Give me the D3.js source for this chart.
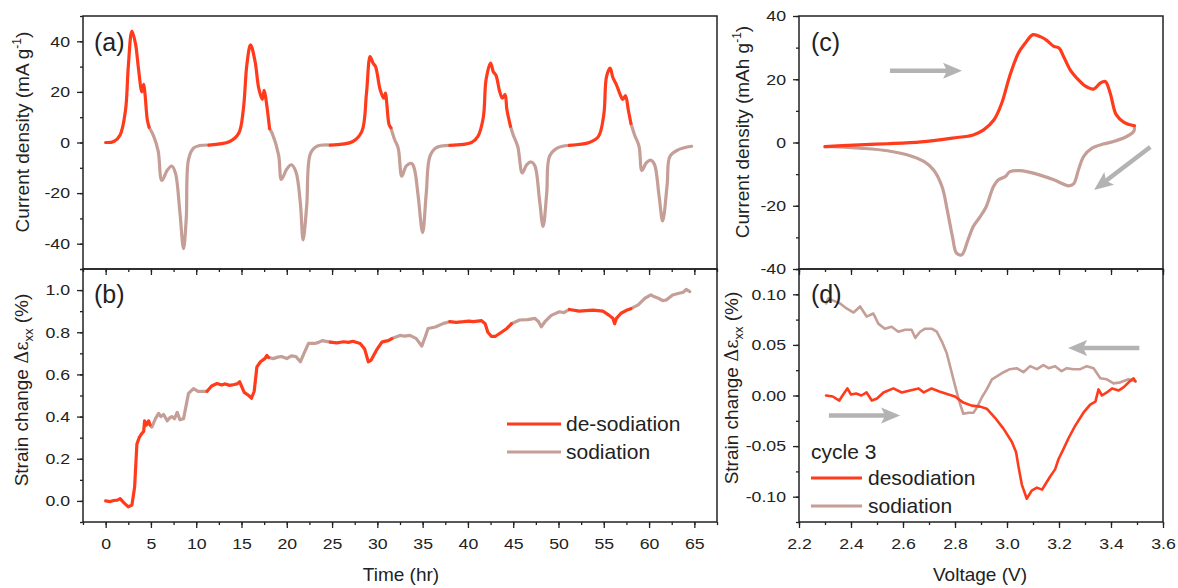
<!DOCTYPE html>
<html>
<head>
<meta charset="utf-8">
<script src="https://cdn.jsdelivr.net/npm/d3@7"></script>
<style>
  body { margin: 0; background: #fff; }
  text { font-family: "Liberation Sans", Arial, sans-serif; fill: #222; }
</style>
</head>
<body>
<svg id="chart" width="1178" height="588"></svg>
<script>
// ---- data ----
// (a) current density vs time, [hr, mA/g], one array per cycle
var currentDesod = [
  [[0,0],[0.9,0.4],[1.6,3],[2.2,13],[2.5,30],[2.9,44],[3.3,39],[3.6,30],[4.0,20],[4.2,23],[4.35,19],[4.6,9],[4.8,6]],
  [[11.4,-1],[13.7,0.4],[14.7,3.7],[15.2,13],[15.6,31],[16.0,38.6],[16.5,32],[16.9,21.5],[17.3,17],[17.5,20.6],[17.7,17],[18.1,5.5]],
  [[24.8,-1],[27.3,0.4],[28.3,4.5],[28.8,19.5],[29.2,34],[29.5,31.5],[29.8,30],[30.3,21],[30.7,17.5],[30.9,19.5],[31.05,15],[31.3,7],[31.5,5.8]],
  [[38.0,-1.1],[40.4,0],[41.1,2.4],[41.7,10],[42.0,24.8],[42.5,31.4],[42.8,28],[43.1,26.5],[43.5,20.2],[43.8,17.5],[44.1,19],[44.3,13],[44.7,6.4]],
  [[51.2,-1.1],[53.4,0],[54.4,2.3],[55.0,11],[55.3,26],[55.7,29.4],[56.0,25.7],[56.4,22.8],[56.8,19],[57.1,17],[57.4,18.5],[57.7,13],[58.0,7.5]]
];
var currentSod = [
  [[4.8,6],[5.3,2.5],[5.8,-3.4],[6.2,-15],[6.8,-11],[7.3,-9.3],[7.7,-12],[8.2,-27.6],[8.6,-42],[8.9,-30],[9.15,-6.7],[9.7,-2.2],[10.4,-1.2],[11.4,-1]],
  [[18.1,5.5],[18.4,3.5],[19.1,-5],[19.4,-14.6],[20,-10.5],[20.5,-8.8],[21,-11.5],[21.5,-24],[21.8,-38.5],[22.2,-25],[22.6,-4.5],[23.3,-1.5],[24.8,-1]],
  [[31.5,5.8],[31.9,1.2],[32.3,-2.2],[32.7,-13.3],[33.2,-9.2],[33.8,-8.3],[34.1,-10.6],[34.5,-21],[35.0,-35.6],[35.4,-20],[35.8,-5.5],[36.5,-2],[38.0,-1.1]],
  [[44.7,6.4],[45.0,3],[45.5,-1.6],[46.0,-12],[46.5,-8.7],[47.0,-7.7],[47.4,-9.3],[47.9,-22.5],[48.3,-33.2],[48.7,-20],[49.0,-5.5],[49.8,-2.3],[51.2,-1.1]],
  [[58.0,7.5],[58.4,3],[58.9,-1.6],[59.2,-11],[59.7,-8],[60.2,-7],[60.6,-8.7],[61.1,-21],[61.5,-31],[62.0,-16.5],[62.3,-5.5],[63.2,-2.9],[64.7,-1.5]]
];

// (b) strain change vs time, [hr, %]
var strainDesod = [
  [[0,0],[0.5,-0.003],[0.9,0.002],[1.3,0.004],[1.6,0.011],[2.0,-0.008],[2.5,-0.028],[2.9,-0.02],[3.2,0.066],[3.45,0.27],[3.7,0.30],[4.0,0.32],[4.2,0.33],[4.3,0.38],[4.5,0.36],[4.75,0.38],[4.9,0.36]],
  [[11.2,0.52],[11.7,0.545],[12.3,0.557],[12.8,0.55],[13.2,0.555],[13.7,0.548],[14.2,0.552],[14.5,0.555],[14.8,0.565],[15.3,0.515],[15.8,0.50],[16.1,0.487],[16.4,0.52],[16.7,0.636],[17.1,0.66],[17.6,0.676],[17.8,0.69],[18.0,0.68]],
  [[24.8,0.753],[25.5,0.75],[26.3,0.755],[26.8,0.752],[27.3,0.757],[28.1,0.747],[28.6,0.72],[29.0,0.66],[29.3,0.667],[29.9,0.715],[30.5,0.753],[30.9,0.758],[31.2,0.76],[31.6,0.77]],
  [[38.0,0.85],[38.7,0.847],[39.5,0.85],[40.1,0.853],[40.6,0.85],[41.5,0.855],[41.9,0.84],[42.2,0.80],[42.6,0.78],[43.0,0.78],[43.7,0.80],[44.3,0.818],[44.8,0.84]],
  [[51.2,0.908],[52.3,0.9],[53.0,0.903],[53.8,0.905],[54.9,0.9],[55.6,0.88],[56.0,0.866],[56.2,0.84],[56.4,0.866],[56.9,0.89],[57.5,0.904],[58.0,0.912]]
];
var strainSod = [
  [[4.9,0.36],[5.1,0.35],[5.5,0.39],[5.85,0.415],[6.1,0.40],[6.4,0.41],[6.8,0.38],[7.1,0.395],[7.3,0.40],[7.6,0.39],[7.9,0.42],[8.2,0.385],[8.6,0.39],[9.15,0.51],[9.7,0.533],[10.2,0.52],[10.6,0.52],[11.2,0.52]],
  [[18.0,0.68],[18.5,0.675],[19.0,0.682],[19.4,0.685],[20,0.675],[20.5,0.688],[21,0.685],[21.5,0.66],[21.9,0.70],[22.4,0.747],[23.1,0.747],[23.5,0.752],[23.9,0.76],[24.8,0.753]],
  [[31.6,0.77],[32.5,0.785],[33.0,0.782],[33.6,0.785],[34.3,0.77],[34.9,0.734],[35.3,0.78],[35.6,0.818],[36.4,0.825],[37.3,0.842],[38.0,0.85]],
  [[44.8,0.84],[45.7,0.858],[46.6,0.86],[47.4,0.866],[47.8,0.85],[48.1,0.826],[48.5,0.85],[49.2,0.88],[50.1,0.897],[50.6,0.893],[51.2,0.908]],
  [[58.0,0.912],[58.8,0.93],[59.5,0.96],[60.2,0.977],[60.6,0.968],[61.1,0.96],[61.5,0.95],[61.9,0.953],[62.6,0.977],[63.3,0.985],[63.8,0.99],[64.1,1.003],[64.5,0.993]]
];

// (c) cyclic voltammogram, [V, mAh/g]
var cvDesod = [[2.3,-1.3],[2.41,-0.8],[2.54,-0.4],[2.67,0.2],[2.79,1.4],[2.87,2.4],[2.91,4],[2.95,7.2],[2.98,12.5],[3.01,20.9],[3.044,28.3],[3.07,31.4],[3.10,34.1],[3.13,33.4],[3.153,32.3],[3.18,30.4],[3.20,29.9],[3.217,27.3],[3.243,23],[3.275,19.8],[3.30,17.9],[3.333,16.9],[3.359,18.8],[3.378,19.3],[3.397,15.6],[3.42,8.8],[3.45,6.4],[3.49,5.3]];
var cvSod = [[3.49,5.3],[3.488,3.6],[3.46,1.9],[3.41,0.3],[3.37,-0.5],[3.327,-1.8],[3.295,-4.4],[3.275,-8.6],[3.256,-13.1],[3.237,-13.7],[3.18,-11.8],[3.115,-10],[3.05,-8.9],[3.011,-9.2],[2.993,-10.8],[2.967,-11.8],[2.948,-13.9],[2.92,-20.3],[2.897,-23.4],[2.87,-26.6],[2.85,-30.8],[2.826,-35.5],[2.806,-35],[2.79,-29.7],[2.77,-21.3],[2.75,-13.9],[2.717,-8.6],[2.68,-6],[2.615,-3.9],[2.54,-2.6],[2.435,-1.8],[2.33,-1.3],[2.3,-1.3]];

// (d) strain change vs voltage, cycle 3, [V, %]
var stDesod = [[2.304,0],[2.33,-0.001],[2.355,-0.005],[2.37,0.001],[2.386,0.007],[2.40,0.001],[2.42,0.002],[2.44,0],[2.46,0.003],[2.48,-0.005],[2.50,-0.003],[2.525,0.003],[2.563,0.007],[2.595,0.003],[2.627,0.005],[2.66,0.007],[2.68,0.003],[2.71,0.007],[2.74,0.004],[2.775,0.001],[2.80,-0.001],[2.832,-0.007],[2.864,-0.01],[2.897,-0.011],[2.922,-0.013],[2.954,-0.022],[2.987,-0.033],[3.019,-0.046],[3.035,-0.056],[3.044,-0.07],[3.057,-0.088],[3.076,-0.102],[3.095,-0.094],[3.115,-0.091],[3.135,-0.093],[3.147,-0.088],[3.166,-0.08],[3.185,-0.073],[3.198,-0.063],[3.217,-0.053],[3.237,-0.042],[3.262,-0.03],[3.294,-0.017],[3.32,-0.009],[3.34,-0.006],[3.352,0.006],[3.365,0],[3.384,0.003],[3.404,0.007],[3.43,0.005],[3.448,0.008],[3.468,0.013],[3.487,0.017],[3.494,0.014]];
var stSod = [[3.494,0.014],[3.468,0.016],[3.436,0.013],[3.41,0.012],[3.384,0.016],[3.359,0.017],[3.333,0.027],[3.307,0.029],[3.282,0.026],[3.256,0.026],[3.23,0.027],[3.21,0.024],[3.185,0.029],[3.16,0.027],[3.14,0.03],[3.115,0.026],[3.089,0.029],[3.063,0.023],[3.037,0.027],[3.011,0.026],[2.987,0.023],[2.961,0.019],[2.942,0.016],[2.922,0.006],[2.903,-0.002],[2.884,-0.012],[2.871,-0.017],[2.852,-0.017],[2.832,-0.018],[2.819,-0.008],[2.807,0.003],[2.794,0.016],[2.781,0.029],[2.768,0.042],[2.75,0.053],[2.73,0.063],[2.71,0.066],[2.685,0.066],[2.666,0.063],[2.647,0.057],[2.633,0.065],[2.608,0.065],[2.582,0.063],[2.556,0.068],[2.53,0.066],[2.505,0.071],[2.486,0.081],[2.46,0.078],[2.435,0.088],[2.41,0.082],[2.383,0.086],[2.358,0.091],[2.33,0.094],[2.313,0.096],[2.304,0.091]];

// ticks
var timeTicks = d3.range(0, 66, 5);
var timeMinor = d3.range(-2.5, 68, 2.5);
var voltTicks = [2.2, 2.4, 2.6, 2.8, 3.0, 3.2, 3.4, 3.6];
var voltMinor = d3.range(2.2, 3.65, 0.1);
var curTicksA = [-40, -20, 0, 20, 40];
var curMinorA = d3.range(-50, 51, 10);
var strainTicksB = [0, 0.2, 0.4, 0.6, 0.8, 1.0];
var strainMinorB = d3.range(-0.1, 1.15, 0.1);
var curTicksC = [-40, -20, 0, 20, 40];
var curMinorC = d3.range(-40, 41, 10);
var strainTicksD = [-0.1, -0.05, 0, 0.05, 0.1];
var strainMinorD = d3.range(-0.125, 0.13, 0.025);

var RED = '#ff3b1c', SOD = '#c49e97', ARROW = '#b3b3b3';
var STRETCH = 'scale(1.18,1)';

var svg = d3.select('#chart');
svg.append('rect').attr('width', 1178).attr('height', 588).attr('fill', '#fff');

// scales
var xTime = d3.scaleLinear().domain([-2.5, 67.5]).range([83, 717]);
var yA = d3.scaleLinear().domain([-50, 50]).range([269, 16]);
var yB = d3.scaleLinear().domain([-0.1, 1.1]).range([522, 269]);
var xVolt = d3.scaleLinear().domain([2.2, 3.6]).range([799, 1163]);
var yC = d3.scaleLinear().domain([-40, 40]).range([269, 16]);
var yD = d3.scaleLinear().domain([-0.125, 0.125]).range([522, 269]);

var fmt = function (f) {
  var g = d3.format(f);
  return function (d) { return g(d).replace('\u2212', '-'); };
};

function leftAxis(y, major, minor, x0, f) {
  var g = svg.append('g').attr('transform', 'translate(' + x0 + ',0)');
  g.call(d3.axisLeft(y).tickValues(minor).tickSize(3).tickFormat(''));
  g.append('g').call(d3.axisLeft(y).tickValues(major).tickSize(6).tickPadding(5).tickFormat(fmt(f)));
  g.selectAll('.domain').remove();
  g.selectAll('line').attr('stroke', '#222').attr('stroke-width', 1.3);
  g.selectAll('text').attr('font-size', 15).attr('font-family', '"Liberation Sans", Arial, sans-serif')
    .attr('fill', '#222').attr('transform', STRETCH);
}

function xAxes(x, major, minor, yTop, yBot, f) {
  // ticks pointing into the lower panel from its top edge
  var t = svg.append('g').attr('transform', 'translate(0,' + yTop + ')');
  t.call(d3.axisBottom(x).tickValues(minor).tickSize(3).tickFormat(''));
  t.append('g').call(d3.axisBottom(x).tickValues(major).tickSize(6).tickFormat(''));
  // bottom axis, outward with labels
  var b = svg.append('g').attr('transform', 'translate(0,' + yBot + ')');
  b.call(d3.axisBottom(x).tickValues(minor).tickSize(3).tickFormat(''));
  b.append('g').call(d3.axisBottom(x).tickValues(major).tickSize(6).tickPadding(10).tickFormat(fmt(f)));
  [t, b].forEach(function (g) {
    g.selectAll('.domain').remove();
    g.selectAll('line').attr('stroke', '#222').attr('stroke-width', 1.3);
  });
  b.selectAll('text').attr('font-size', 15).attr('font-family', '"Liberation Sans", Arial, sans-serif')
    .attr('fill', '#222').attr('transform', STRETCH);
}

function frame(x0, x1, y0, y1) {
  svg.append('rect').attr('x', x0).attr('y', y0).attr('width', x1 - x0).attr('height', y1 - y0)
    .attr('fill', 'none').attr('stroke', '#222').attr('stroke-width', 1.5);
}

function drawSeries(segments, x, y, color, width, curve) {
  var line = d3.line().x(function (d) { return x(d[0]); }).y(function (d) { return y(d[1]); }).curve(curve);
  svg.append('g').selectAll('path').data(segments).enter().append('path')
    .attr('d', line).attr('fill', 'none').attr('stroke', color)
    .attr('stroke-width', width).attr('stroke-linejoin', 'round').attr('stroke-linecap', 'round');
}

function arrow(x1, y1, x2, y2) {
  var dx = x2 - x1, dy = y2 - y1, len = Math.sqrt(dx * dx + dy * dy);
  var ux = dx / len, uy = dy / len, px = -uy, py = ux;
  var hl = 19, hw = 8, notch = 4;
  var bx = x2 - ux * hl, by = y2 - uy * hl;
  svg.append('line').attr('x1', x1).attr('y1', y1).attr('x2', bx + ux * notch).attr('y2', by + uy * notch)
    .attr('stroke', ARROW).attr('stroke-width', 4.5);
  var pts = [[x2, y2], [bx + px * hw, by + py * hw], [bx + ux * notch, by + uy * notch], [bx - px * hw, by - py * hw]];
  svg.append('path').attr('d', 'M' + pts.join('L') + 'Z').attr('fill', ARROW);
}

function yTitle(x, y, parts) {
  var t = svg.append('text').attr('transform', 'translate(' + x + ',' + y + ') rotate(-90)')
    .attr('text-anchor', 'middle').attr('font-size', 19);
  parts.forEach(function (p) {
    var s = t.append('tspan').text(p.t);
    if (p.dy) s.attr('dy', p.dy);
    if (p.size) s.attr('font-size', p.size);
    if (p.font) s.attr('font-family', p.font);
  });
}

var strainTitle = [
  { t: 'Strain change ' },
  { t: '\u0394\u03b5', font: '"DejaVu Serif", "Liberation Serif", serif', size: 18 },
  { t: 'xx', size: 13, dy: 5 },
  { t: ' (%)', dy: -5 }
];

// ---- panels ----
// (a)
drawSeries(currentSod, xTime, yA, SOD, 3.2, d3.curveCatmullRom);
drawSeries(currentDesod, xTime, yA, RED, 3.2, d3.curveCatmullRom);
// (b)
drawSeries(strainSod, xTime, yB, SOD, 3.2, d3.curveLinear);
drawSeries(strainDesod, xTime, yB, RED, 3.2, d3.curveLinear);
// (c)
drawSeries([cvSod], xVolt, yC, SOD, 3.2, d3.curveCatmullRom);
drawSeries([cvDesod], xVolt, yC, RED, 3.2, d3.curveCatmullRom);
// (d)
drawSeries([stSod], xVolt, yD, SOD, 2.6, d3.curveLinear);
drawSeries([stDesod], xVolt, yD, RED, 2.6, d3.curveLinear);

frame(83, 717, 16, 269);
frame(83, 717, 269, 522);
frame(799, 1163, 16, 269);
frame(799, 1163, 269, 522);

leftAxis(yA, curTicksA, curMinorA, 83, 'd');
leftAxis(yB, strainTicksB, strainMinorB, 83, '.1f');
leftAxis(yC, curTicksC, curMinorC, 799, 'd');
leftAxis(yD, strainTicksD, strainMinorD, 799, '.2f');
xAxes(xTime, timeTicks, timeMinor, 269, 522, 'd');
xAxes(xVolt, voltTicks, voltMinor, 269, 522, '.1f');

// arrows (c) and (d)
arrow(xVolt(2.55), yC(22.7), xVolt(2.827), yC(22.7));
arrow(xVolt(3.551), yC(-1.4), xVolt(3.335), yC(-15));
arrow(xVolt(3.509), yD(0.047), xVolt(3.235), yD(0.047));
arrow(xVolt(2.315), yD(-0.0197), xVolt(2.589), yD(-0.0197));

// panel letters
[['(a)', 94, 51], ['(b)', 94, 303], ['(c)', 811, 51], ['(d)', 811, 303]].forEach(function (p) {
  svg.append('text').attr('x', p[1]).attr('y', p[2]).attr('font-size', 25)
    .attr('font-family', 'Lato, "Open Sans", sans-serif').text(p[0]);
});

// axis titles
yTitle(29, 132, [{ t: 'Current density (mA g' }, { t: '-1', size: 12, dy: -8 }, { t: ')', dy: 8 }]);
yTitle(28, 390, strainTitle);
yTitle(749, 132, [{ t: 'Current density (mAh g' }, { t: '-1', size: 12, dy: -8 }, { t: ')', dy: 8 }]);
yTitle(738, 388, strainTitle);
svg.append('text').attr('x', 401).attr('y', 581).attr('text-anchor', 'middle').attr('font-size', 19).text('Time (hr)');
svg.append('text').attr('x', 980).attr('y', 581).attr('text-anchor', 'middle').attr('font-size', 19).text('Voltage (V)');

// legend (b)
var legB = [['de-sodiation', RED], ['sodiation', SOD]];
legB.forEach(function (d, i) {
  var yy = 424 + i * 28;
  svg.append('line').attr('x1', 507).attr('x2', 561).attr('y1', yy).attr('y2', yy)
    .attr('stroke', d[1]).attr('stroke-width', 3.2);
  svg.append('text').attr('x', 566).attr('y', yy + 7).attr('font-size', 21).text(d[0]);
});

// legend (d)
svg.append('text').attr('x', 811).attr('y', 459).attr('font-size', 21).text('cycle 3');
var legD = [['desodiation', RED], ['sodiation', SOD]];
legD.forEach(function (d, i) {
  var yy = 478 + i * 28;
  svg.append('line').attr('x1', 811).attr('x2', 862).attr('y1', yy).attr('y2', yy)
    .attr('stroke', d[1]).attr('stroke-width', 3);
  svg.append('text').attr('x', 868).attr('y', yy + 7).attr('font-size', 21).text(d[0]);
});
</script>
</body>
</html>
